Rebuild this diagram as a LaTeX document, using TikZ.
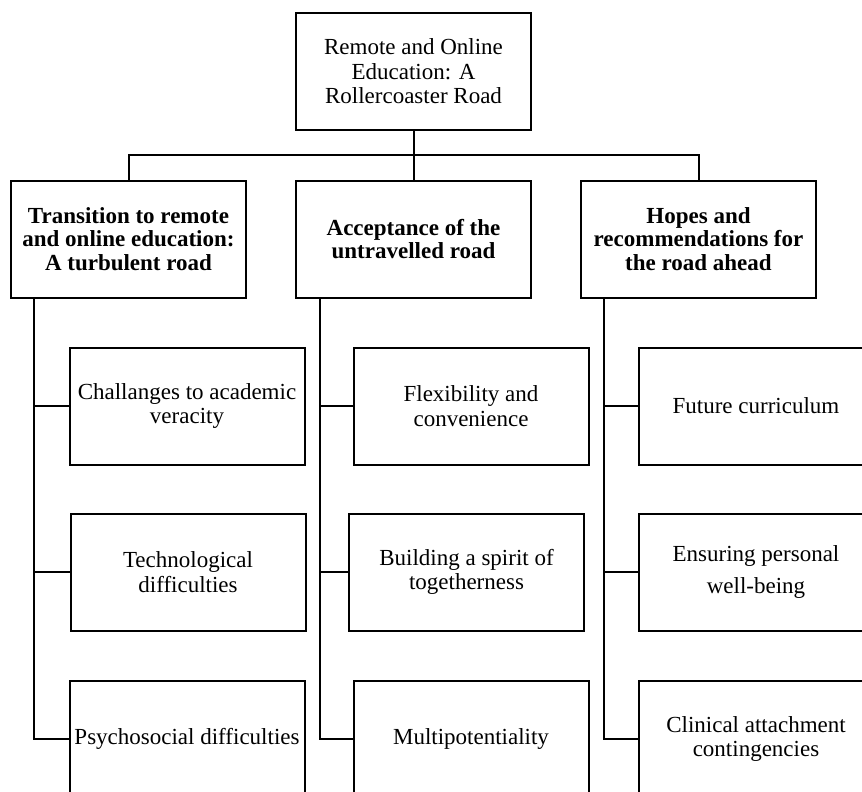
\documentclass[tikz,border=0pt]{standalone}
\usepackage{fontspec}
\setmainfont{Liberation Serif}
\begin{document}
\begin{tikzpicture}[x=1pt,y=-1pt,
  box/.style={draw=black,line width=2pt,minimum width=235pt,minimum height=117pt,inner sep=0pt,align=center,
    font=\fontsize{23}{24.5}\selectfont},
  hbox/.style={box,font=\fontsize{23}{23.7}\selectfont\bfseries},
  conn/.style={draw=black,line width=2pt}]
\useasboundingbox (0,0) rectangle (862,792);
\clip (0,0) rectangle (862,792);
\node[box] (root) at (413.5,71.5) {Remote and Online\\Education: A\\Rollercoaster Road};
\node[hbox] (a) at (128.5,239) {Transition to remote\\and online education:\\A turbulent road};
\node[hbox] (b) at (413.5,239) {Acceptance of the\\untravelled road};
\node[hbox] (c) at (698.5,239) {Hopes and\\recommendations for\\the road ahead};
\node[box] (a1) at (187,406) {Challanges to academic\\veracity};
\node[box] (a2) at (188,572) {Technological\\difficulties};
\node[box] (a3) at (187,739) {Psychosocial difficulties};
\node[box] (b1) at (471,406) {Flexibility and\\convenience};
\node[box] (b2) at (466.5,572) {Building a spirit of\\togetherness};
\node[box] (b3) at (471,739) {Multipotentiality};
\node[box] (c1) at (756,406) {Future curriculum};
\node[box] (c2) at (756,572) {Ensuring personal\\[8pt]well-being};
\node[box] (c3) at (756,739) {Clinical attachment\\contingencies};
\coordinate (bus) at (0,155);
\coordinate (sa) at (34,0);
\coordinate (sb) at (319.5,0);
\coordinate (sc) at (603.5,0);
\draw[conn] (root.south) -- (b.north);
\draw[conn] (a.north) |- (bus -| root.south) -| (c.north);
\draw[conn] (sa |- a.south) |- (a3.west);
\draw[conn] (sa |- a1.west) -- (a1.west);
\draw[conn] (sa |- a2.west) -- (a2.west);
\draw[conn] (sb |- b.south) |- (b3.west);
\draw[conn] (sb |- b1.west) -- (b1.west);
\draw[conn] (sb |- b2.west) -- (b2.west);
\draw[conn] (sc |- c.south) |- (c3.west);
\draw[conn] (sc |- c1.west) -- (c1.west);
\draw[conn] (sc |- c2.west) -- (c2.west);
\end{tikzpicture}
\end{document}
